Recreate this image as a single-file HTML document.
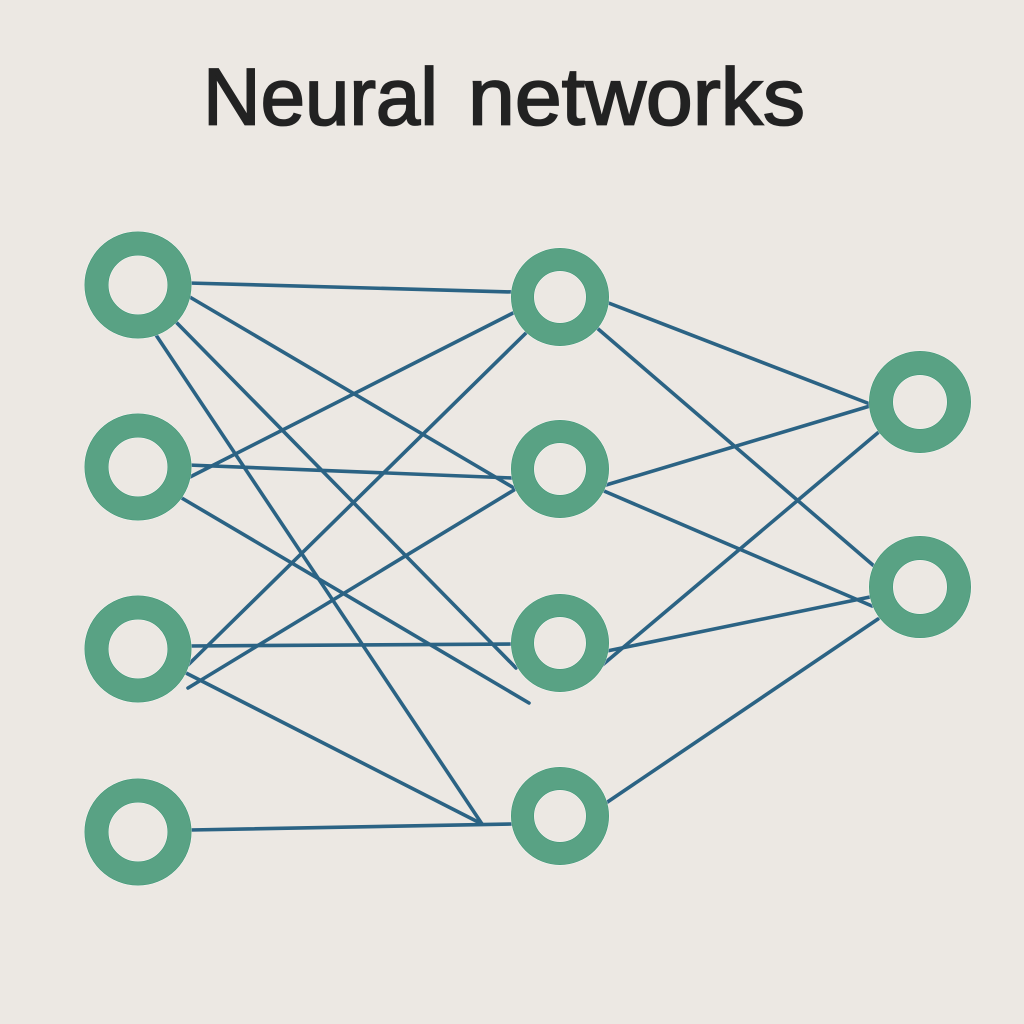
<!DOCTYPE html>
<html>
<head>
<meta charset="utf-8">
<style>
html,body{margin:0;padding:0;background:#ece8e3;}
svg{display:block;}
</style>
</head>
<body>
<svg width="1024" height="1024" viewBox="0 0 1024 1024" xmlns="http://www.w3.org/2000/svg">
<defs>
<g id="ringsA">
<circle cx="138" cy="285" r="41.5"/>
<circle cx="138" cy="467" r="41.5"/>
<circle cx="138" cy="649" r="41.5"/>
<circle cx="138" cy="832" r="41.5"/>
<circle cx="920" cy="402" r="39"/>
<circle cx="920" cy="587" r="39"/>
</g>
<g id="ringsB">
<circle cx="560" cy="297" r="37.5"/>
<circle cx="560" cy="469" r="37.5"/>
<circle cx="560" cy="643" r="37.5"/>
<circle cx="560" cy="816" r="37.5"/>
</g>
</defs>
<rect width="1024" height="1024" fill="#ece8e3"/>
<g font-family="'Liberation Sans',sans-serif" font-size="81" fill="#222222" stroke="#222222" stroke-width="1.8">
<text x="203" y="124.5" textLength="235" lengthAdjust="spacingAndGlyphs">Neural</text>
<text x="468" y="124.5" textLength="337" lengthAdjust="spacingAndGlyphs">networks</text>
</g>
<g stroke="#2b6384" stroke-width="3.6" fill="none" stroke-linecap="round">
<line x1="188" y1="283" x2="513" y2="292"/>
<line x1="188" y1="296" x2="514" y2="488"/>
<line x1="176" y1="322" x2="516" y2="668"/>
<line x1="156" y1="335" x2="482" y2="824"/>
<line x1="188" y1="478" x2="515" y2="312"/>
<line x1="188" y1="465" x2="512" y2="478"/>
<line x1="180" y1="497" x2="529" y2="703"/>
<line x1="188" y1="665" x2="527" y2="332"/>
<line x1="188" y1="688" x2="514" y2="490"/>
<line x1="188" y1="646" x2="512" y2="644"/>
<line x1="186" y1="673" x2="482" y2="824"/>
<line x1="190" y1="830" x2="512" y2="824"/>
<line x1="606" y1="302" x2="870" y2="404"/>
<line x1="597" y1="328" x2="874" y2="566"/>
<line x1="606" y1="485" x2="870" y2="406"/>
<line x1="604" y1="491" x2="872" y2="606"/>
<line x1="600" y1="667" x2="880" y2="431"/>
<line x1="607" y1="651" x2="870" y2="597"/>
<line x1="606" y1="803" x2="878" y2="619"/>
</g>
<use href="#ringsA" fill="none" stroke="#ffffff" stroke-opacity="0.6" stroke-width="25"/>
<use href="#ringsA" fill="none" stroke="#3f9675" stroke-width="24"/>
<use href="#ringsA" fill="none" stroke="#59a284" stroke-width="23"/>
<use href="#ringsB" fill="none" stroke="#ffffff" stroke-opacity="0.6" stroke-width="24"/>
<use href="#ringsB" fill="none" stroke="#3f9675" stroke-width="23"/>
<use href="#ringsB" fill="none" stroke="#59a284" stroke-width="22"/>
</svg>
</body>
</html>
